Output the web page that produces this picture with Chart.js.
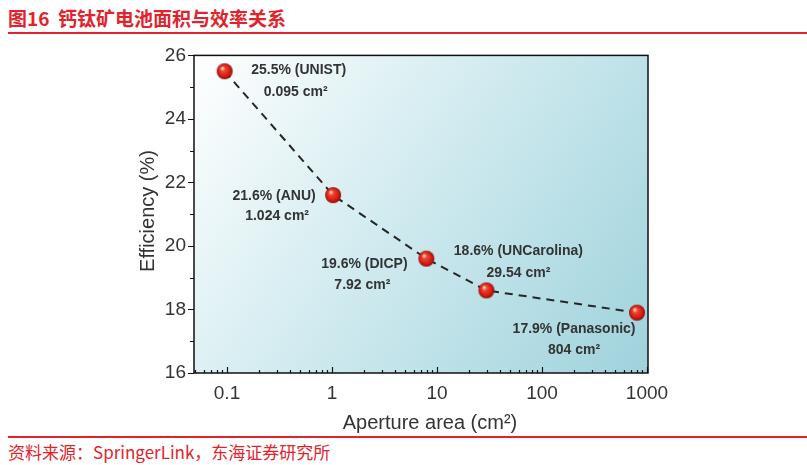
<!DOCTYPE html>
<html>
<head>
<meta charset="utf-8">
<script src="https://cdn.jsdelivr.net/npm/chart.js@4.4.1/dist/chart.umd.min.js"></script>
<style>
  body { margin: 0; background: #fff; width: 807px; height: 465px; overflow: hidden; position: relative; }
  #title { position: absolute; left: 8px; top: 6px; color: #e3232c; font: bold 19px "Noto Sans CJK SC", sans-serif; line-height: 24px; white-space: nowrap; }
  .rule { position: absolute; left: 8px; right: 0; height: 2px; background: #e3232c; }
  #wrap { position: absolute; left: 0; top: 36px; width: 807px; height: 398px; }
  #src { position: absolute; left: 8px; top: 441px; color: #e3232c; font: 17px "Noto Sans CJK SC", sans-serif; line-height: 22px; white-space: nowrap; }
</style>
</head>
<body>
<div id="title">图16&nbsp;&nbsp;钙钛矿电池面积与效率关系</div>
<div class="rule" style="top:32px"></div>
<div id="wrap"><canvas id="chart"></canvas></div>
<div class="rule" style="top:436px"></div>
<div id="src">资料来源：SpringerLink，东海证券研究所</div>

<script>
// data
const areas    = [0.095, 1.024, 7.92, 29.54, 804];
const effs     = [25.5, 21.6, 19.6, 18.6, 17.9];
const labs     = ['UNIST', 'ANU', 'DICP', 'UNCarolina', 'Panasonic'];
const areaTxt  = ['0.095 cm²', '1.024 cm²', '7.92 cm²', '29.54 cm²', '804 cm²'];
const xTicks   = [0.1, 1, 10, 100, 1000];
const yTicks   = [16, 18, 20, 22, 24, 26];

// label offsets from each point (px): [dx1, dy1, dx2, dy2]
const labOff = [
  [74, -1, 71, 21],
  [-59, 1, -56, 21],
  [-62, 5, -64, 26],
  [32, -39, 32, -17],
  [-63, 16, -63, 37]
];

const TXT = '#333333';

function sphere(r) {
  const c = document.createElement('canvas');
  c.width = c.height = r * 2 + 2;
  const x = c.getContext('2d');
  const g = x.createRadialGradient(r * 0.7 + 1, r * 0.6 + 1, r * 0.08, r + 1, r + 1, r);
  g.addColorStop(0, '#ffd8d0');
  g.addColorStop(0.25, '#f2442f');
  g.addColorStop(0.75, '#d01a12');
  g.addColorStop(1, '#8c0c08');
  x.fillStyle = g;
  x.beginPath();
  x.arc(r + 1, r + 1, r, 0, Math.PI * 2);
  x.fill();
  return c;
}

const pts = areas.map((a, i) => ({ x: a, y: effs[i] }));

const decor = {
  id: 'decor',
  beforeDraw(chart) {
    const { ctx, chartArea: a } = chart;
    const g = ctx.createLinearGradient(a.left, a.top, a.right, a.bottom);
    g.addColorStop(0, '#ffffff');
    g.addColorStop(0.5, '#cde9ee');
    g.addColorStop(1, '#9fd2dc');
    ctx.save();
    ctx.fillStyle = g;
    ctx.fillRect(a.left, a.top, a.right - a.left, a.bottom - a.top);
    ctx.restore();
  },
  afterDraw(chart) {
    const { ctx, chartArea: a, scales } = chart;
    const xs = scales.x, ys = scales.y;
    ctx.save();
    // frame
    ctx.strokeStyle = '#111';
    ctx.lineWidth = 1.5;
    ctx.strokeRect(a.left, a.top, a.right - a.left, a.bottom - a.top);

    // y ticks, outward
    ctx.lineWidth = 1.2;
    ctx.beginPath();
    for (let v = 16; v <= 26; v++) {
      const y = Math.round(ys.getPixelForValue(v)) + 0.5;
      const len = v % 2 === 0 ? 6 : 4;
      ctx.moveTo(a.left - len, y);
      ctx.lineTo(a.left, y);
    }
    // x ticks, inward
    for (let d = -2; d <= 3; d++) {
      for (let m = 1; m <= 9; m++) {
        const v = m * Math.pow(10, d);
        if (v < xs.min || v > xs.max) continue;
        const x = Math.round(xs.getPixelForValue(v)) + 0.5;
        const len = m === 1 ? 6 : 3;
        ctx.moveTo(x, a.bottom);
        ctx.lineTo(x, a.bottom - len);
      }
    }
    ctx.stroke();

    // axis titles
    ctx.fillStyle = TXT;
    ctx.font = '20px Arial, "Liberation Sans", sans-serif';
    ctx.textAlign = 'center';
    ctx.textBaseline = 'middle';
    ctx.fillText('Aperture area (cm²)', 430, 387);
    ctx.save();
    ctx.translate(148, 175);
    ctx.rotate(-Math.PI / 2);
    ctx.fillText('Efficiency (%)', 0, 0);
    ctx.restore();

    // point labels
    ctx.font = 'bold 14px Arial, "Liberation Sans", sans-serif';
    areas.forEach((v, i) => {
      const px = xs.getPixelForValue(v);
      const py = ys.getPixelForValue(effs[i]);
      const o = labOff[i];
      ctx.fillText(effs[i].toFixed(1) + '% (' + labs[i] + ')', px + o[0], py + o[1]);
      ctx.fillText(areaTxt[i], px + o[2], py + o[3]);
    });
    ctx.restore();
  }
};

new Chart(document.getElementById('chart'), {
  type: 'scatter',
  data: {
    datasets: [
      {
        label: 'cells',
        data: pts,
        pointStyle: sphere(8),
        pointRadius: 8,
        pointHoverRadius: 8,
        order: 0
      },
      {
        label: 'trend',
        type: 'line',
        data: pts,
        showLine: true,
        borderColor: '#262626',
        borderWidth: 2,
        borderDash: [8, 6],
        tension: 0,
        pointRadius: 0,
        fill: false,
        order: 1
      }
    ]
  },
  options: {
    responsive: true,
    maintainAspectRatio: false,
    animation: false,
    layout: { padding: { top: 18, right: 159, left: 0, bottom: 0 } },
    plugins: { legend: { display: false }, tooltip: { enabled: false } },
    scales: {
      x: {
        type: 'logarithmic',
        min: 0.0485,
        max: 1022,
        grid: { display: false, drawTicks: false },
        border: { display: false },
        afterBuildTicks: (s) => { s.ticks = xTicks.map(v => ({ value: v })); },
        ticks: {
          padding: 9,
          color: TXT,
          font: { family: 'Arial, "Liberation Sans", sans-serif', size: 19 },
          maxRotation: 0,
          autoSkip: false,
          callback: (v) => String(v)
        },
        afterFit: (s) => { s.height = 61; }
      },
      y: {
        min: 16,
        max: 26,
        grid: { display: false, drawTicks: false },
        border: { display: false },
        afterBuildTicks: (s) => { s.ticks = yTicks.map(v => ({ value: v })); },
        ticks: {
          padding: 8,
          color: TXT,
          font: { family: 'Arial, "Liberation Sans", sans-serif', size: 19 }
        },
        afterFit: (s) => { s.width = 194; }
      }
    }
  },
  plugins: [decor]
});
</script>
</body>
</html>
